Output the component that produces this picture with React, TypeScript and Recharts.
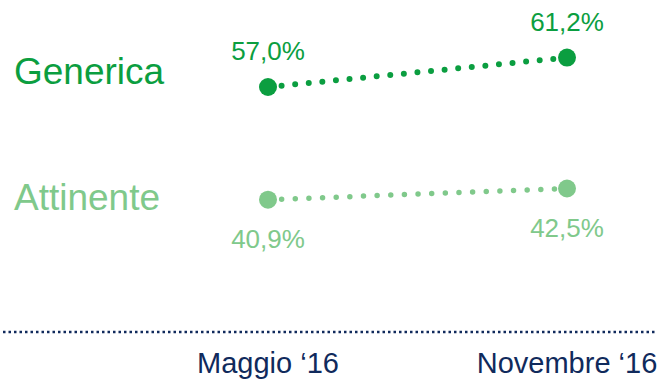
import React from "react";
import { LineChart, Line, XAxis, YAxis, LabelList } from "recharts";

const months = ["Maggio \u201816", "Novembre \u201816"];
const genericaValues = [57.0, 61.2];
const attinenteValues = [40.9, 42.5];
const seriesNames = ["Generica", "Attinente"];

const data = months.map((m, i) => ({
  month: m,
  generica: genericaValues[i],
  attinente: attinenteValues[i],
}));

const FONT = "'Liberation Sans', Arial, Helvetica, sans-serif";
const DARK_GREEN = "#0b9e40";
const LIGHT_GREEN = "#80c98b";
const NAVY = "#102a5c";

const fmt = (v: number) => v.toFixed(1).replace(".", ",") + "%";

const makeDot = (color: string) => (props: any) => {
  const { cx, cy, index } = props;
  if (cx == null || cy == null) return <g key={`d-${index}`} />;
  return <circle key={`d-${index}`} cx={cx} cy={cy} r={9} fill={color} />;
};

const makeLabel = (color: string, name: string, valueDy: number, nameDy: number) => (props: any) => {
  const { x, y, value, index } = props;
  return (
    <g>
      <text
        x={x}
        y={y + valueDy}
        textAnchor="middle"
        fontSize={26}
        fontFamily={FONT}
        fill={color}
      >
        {fmt(Number(value))}
      </text>
      {index === 0 ? (
        <text x={14} y={y + nameDy} textAnchor="start" fontSize={37} fontFamily={FONT} fill={color}>
          {name}
        </text>
      ) : null}
    </g>
  );
};

export default function App() {
  return (
    <div style={{ position: "absolute", left: 0, top: 0, background: "#fff" }}>
      <LineChart
        width={658}
        height={380}
        data={data}
        margin={{ top: 24, right: 3, bottom: 0, left: 3 }}
      >
        <XAxis
          dataKey="month"
          height={48}
          padding={{ left: 265, right: 88 }}
          axisLine={{ stroke: NAVY, strokeWidth: 2.5, strokeDasharray: "2.5 3" }}
          tickLine={false}
          tickMargin={14}
          tick={{ fill: NAVY, fontSize: 29, fontFamily: FONT }}
          interval={0}
        />
        <YAxis hide domain={[22, 66]} />
        <Line
          dataKey="generica"
          stroke={DARK_GREEN}
          strokeWidth={6}
          strokeLinecap="round"
          strokeDasharray="0 13.65"
          dot={makeDot(DARK_GREEN)}
          activeDot={false}
          isAnimationActive={false}
        >
          <LabelList dataKey="generica" content={makeLabel(DARK_GREEN, seriesNames[0], -27, -3)} />
        </Line>
        <Line
          dataKey="attinente"
          stroke={LIGHT_GREEN}
          strokeWidth={5.5}
          strokeLinecap="round"
          strokeDasharray="0 13.65"
          dot={makeDot(LIGHT_GREEN)}
          activeDot={false}
          isAnimationActive={false}
        >
          <LabelList dataKey="attinente" content={makeLabel(LIGHT_GREEN, seriesNames[1], 48, 10)} />
        </Line>
      </LineChart>
    </div>
  );
}
